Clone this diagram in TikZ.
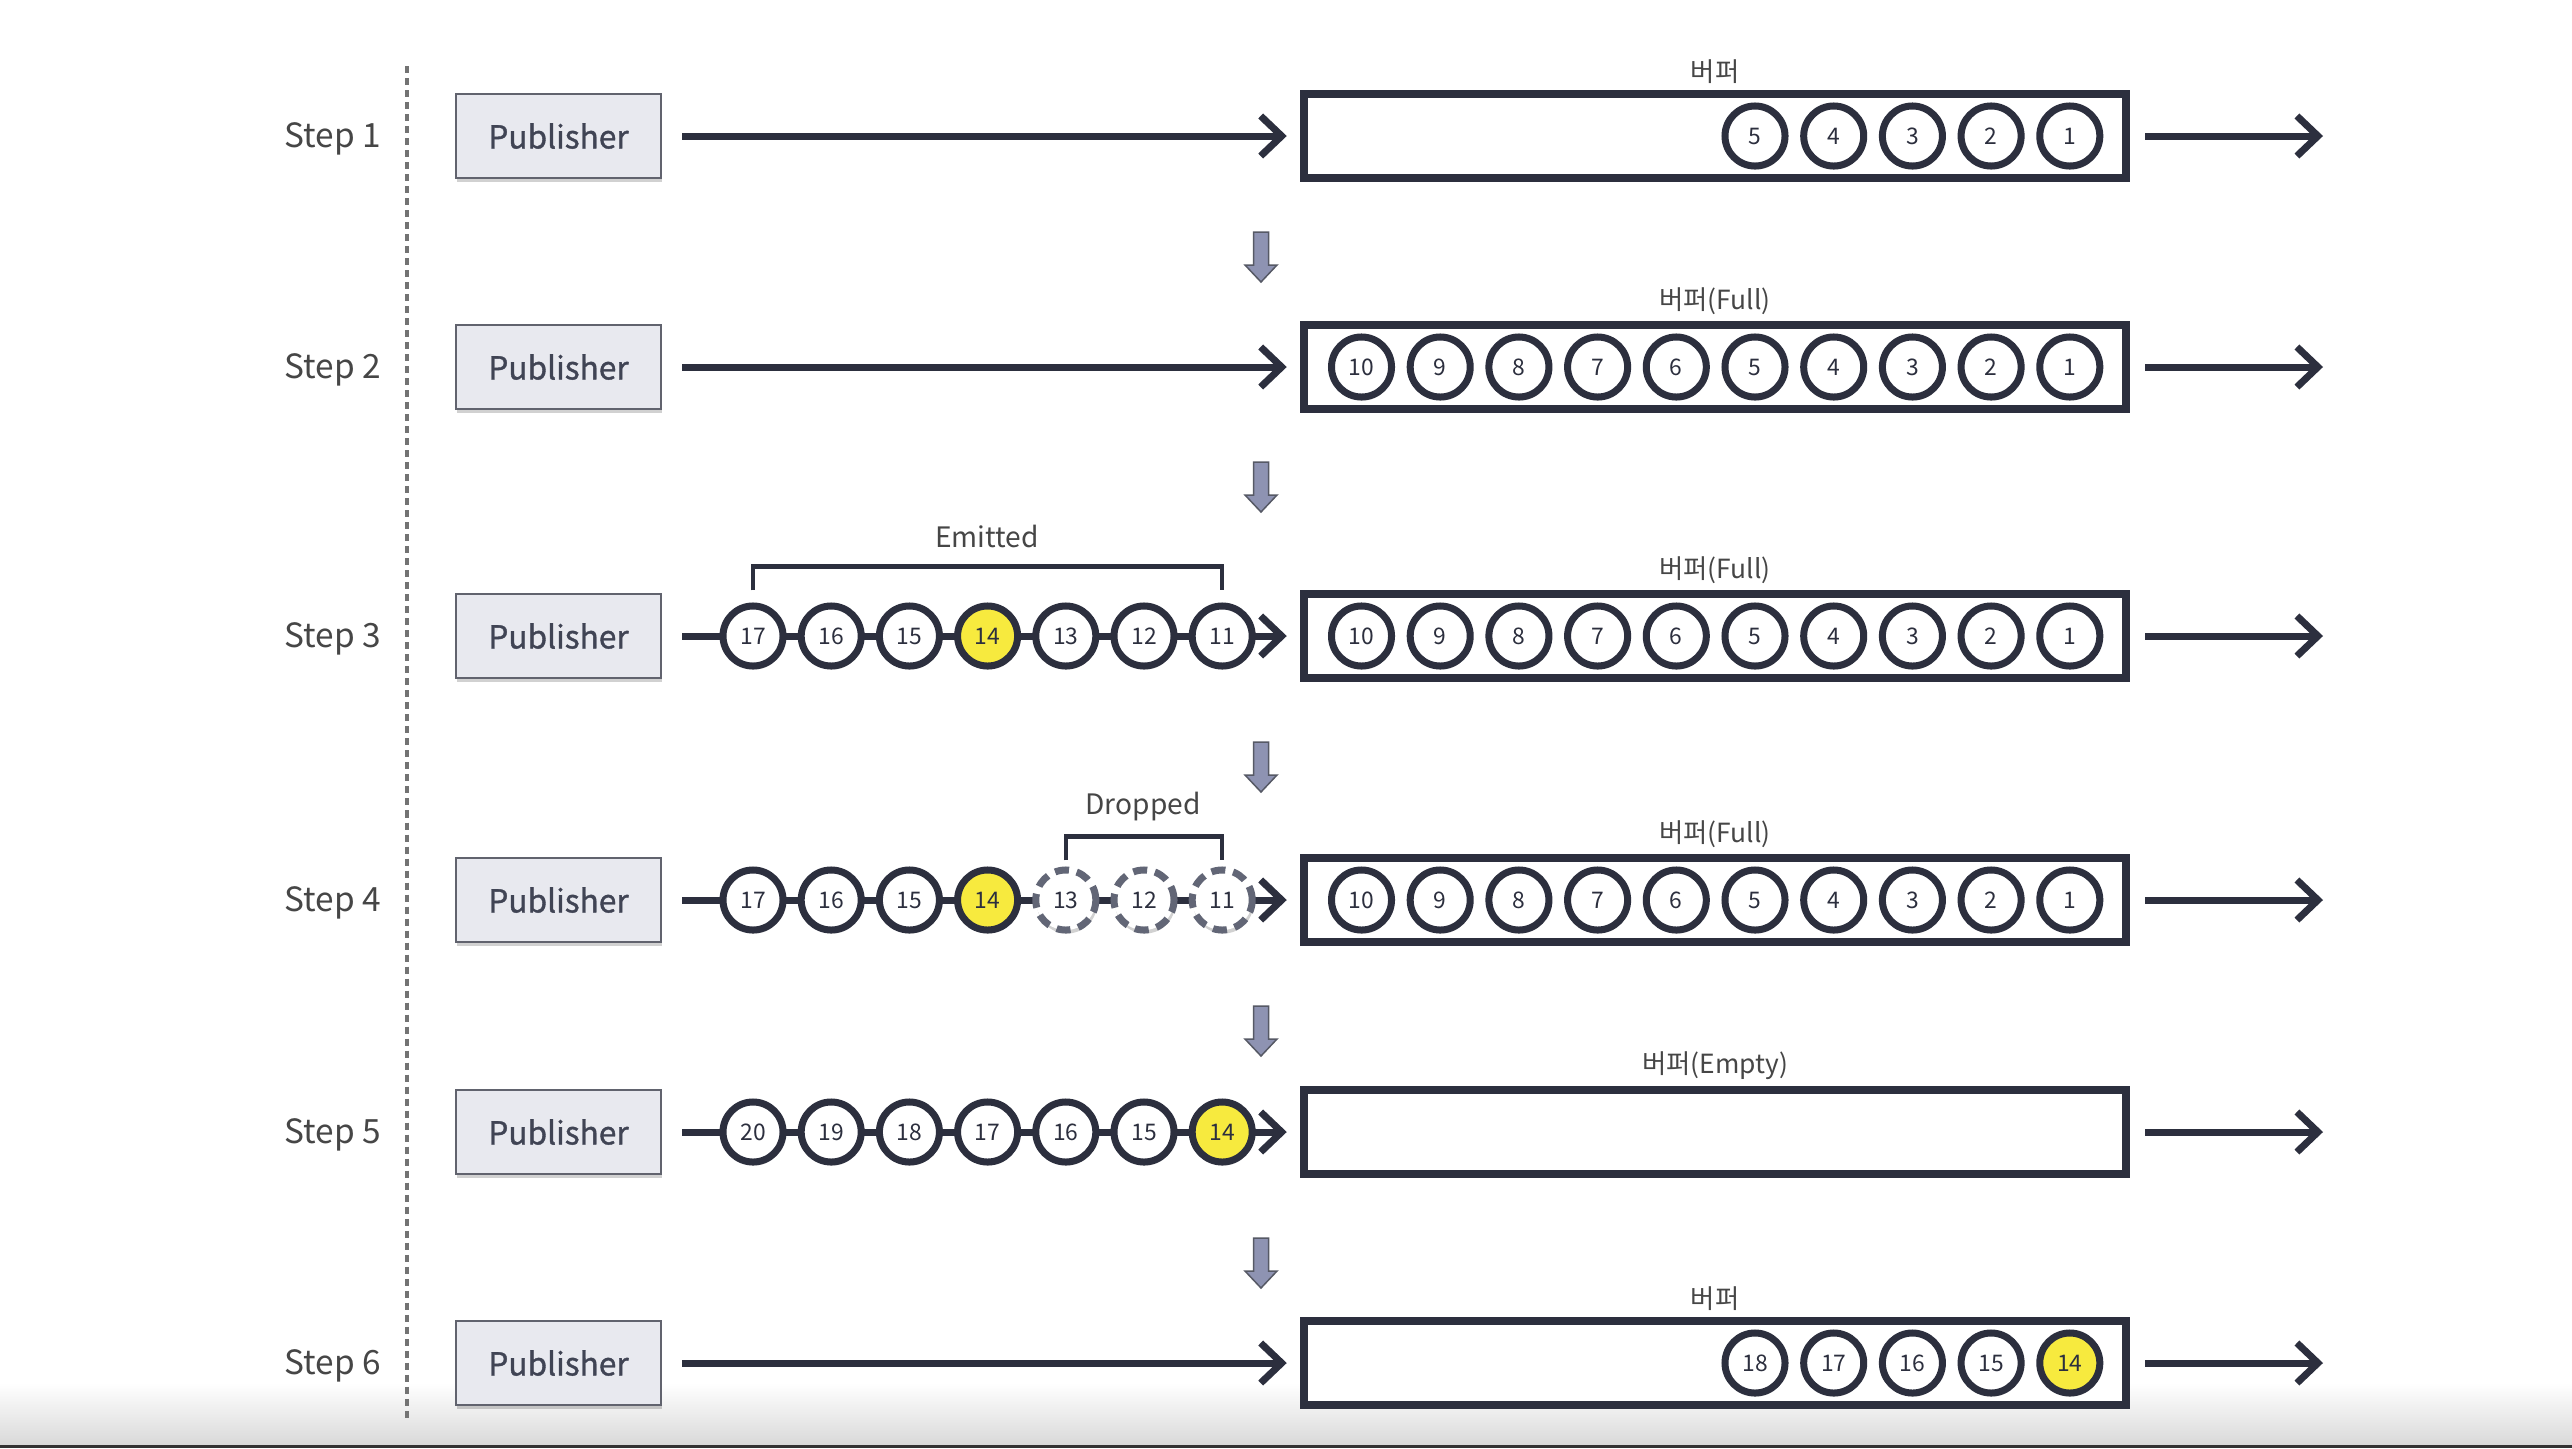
\documentclass[tikz,border=0pt]{standalone}
\usepackage{fontspec}
\setmainfont{Noto Sans CJK KR}
\newfontfamily\pubfont[AutoFakeBold=1.2]{Noto Sans CJK KR}
\usetikzlibrary{arrows.meta,shadows}
\definecolor{ink}{RGB}{44,47,62}
\definecolor{pubfill}{RGB}{232,233,239}
\definecolor{pubtext}{RGB}{64,68,84}
\definecolor{dnfill}{RGB}{142,147,178}
\definecolor{yel}{RGB}{247,234,62}
\definecolor{dropc}{RGB}{98,102,118}
\definecolor{lbl}{RGB}{70,70,70}
\begin{document}
\begin{tikzpicture}[x=0.01cm, y=-0.01cm,
  softshadow/.style={drop shadow={shadow xshift=0.012cm, shadow yshift=-0.035cm, opacity=0.18, fill=black}},
  steplbl/.style={font=\fontsize{9.5}{12}\selectfont, text=lbl},
  pubbox/.style={draw=ink!75, line width=0.02cm, fill=pubfill, minimum width=2.05cm, minimum height=0.84cm, inner sep=0pt, font=\fontsize{9}{11}\selectfont\pubfont\bfseries, text=pubtext, softshadow},
  buf/.style={draw=ink, line width=0.08cm, fill=white, minimum width=8.22cm, minimum height=0.84cm, inner sep=0pt, softshadow},
  buflbl/.style={font=\fontsize{7.5}{9}\selectfont, text=lbl, inner sep=1pt},
  ball/.style={circle, draw=ink, line width=0.07cm, fill=white, minimum size=0.6cm, inner sep=0pt, font=\fontsize{6.5}{8}\selectfont, text=ink, softshadow},
  hot/.style={ball, fill=yel},
  gone/.style={ball, draw=dropc, dash pattern=on 0.14cm off 0.08cm},
  flow/.style={draw=ink, line width=0.07cm, -{Straight Barb[length=0.21cm, width=0.4cm]}},
  bracketline/.style={draw=ink, line width=0.045cm},
  brlbl/.style={font=\fontsize{8}{10}\selectfont, text=lbl},
  dnarrow/.style={draw=ink!80, line width=0.015cm, fill=dnfill},
  divider/.style={draw=black!55, line width=0.035cm, dash pattern=on 0.07cm off 0.05cm}
]
\useasboundingbox (0,0) rectangle (2572,1448);
\fill[white] (0,0) rectangle (2572,1448);
\shade[top color=white, bottom color=black!15] (0,1383) rectangle (2572,1445);
\fill[black!80] (0,1445) rectangle (2572,1448);

% divider
\draw[divider] (407,66) -- (407,1419);

% ---------- Step 1
\node[steplbl] (st1) at (333,139) {Step 1};
\node[pubbox] (pub1) at (558.5,136) {Publisher};
\node[buf] (buf1) at (1715,136) {};
\node[buflbl, above=0.02cm] (bl1) at (buf1.north) {버퍼};
\coordinate (out1) at (2323,136);
\draw[flow] ([xshift=0.2cm]pub1.east) -- ([xshift=-0.13cm]buf1.west);
\draw[flow] ([xshift=0.15cm]buf1.east) -- (out1);
\foreach \n [count=\i from 5] in {5,4,3,2,1}
  \node[ball] (b1-\n) at (1361.5+78.7*\i,136) {\n};

% ---------- Step 2
\node[steplbl] (st2) at (333,370) {Step 2};
\node[pubbox] (pub2) at (558.5,367) {Publisher};
\node[buf] (buf2) at (1715,367) {};
\node[buflbl, above=0.02cm] (bl2) at (buf2.north) {버퍼(Full)};
\coordinate (out2) at (2323,367);
\draw[flow] ([xshift=0.2cm]pub2.east) -- ([xshift=-0.13cm]buf2.west);
\draw[flow] ([xshift=0.15cm]buf2.east) -- (out2);
\foreach \n [count=\i from 0] in {10,9,8,7,6,5,4,3,2,1}
  \node[ball] (b2-\n) at (1361.5+78.7*\i,367) {\n};

% ---------- Step 3
\node[steplbl] (st3) at (333,639) {Step 3};
\node[pubbox] (pub3) at (558.5,636) {Publisher};
\node[buf] (buf3) at (1715,636) {};
\node[buflbl, above=0.02cm] (bl3) at (buf3.north) {버퍼(Full)};
\coordinate (out3) at (2323,636);
\draw[flow] ([xshift=0.2cm]pub3.east) -- ([xshift=-0.13cm]buf3.west);
\draw[flow] ([xshift=0.15cm]buf3.east) -- (out3);
\foreach \n [count=\i from 0] in {10,9,8,7,6,5,4,3,2,1}
  \node[ball] (b3-\n) at (1361.5+78.7*\i,636) {\n};
\foreach \n [count=\j from 0] in {17,16,15}
  \node[ball] (q3-\n) at (753+78.2*\j,636) {\n};
\node[hot] (q3-14) at (753+78.2*3,636) {14};
\foreach \n [count=\j from 4] in {13,12,11}
  \node[ball] (q3-\n) at (753+78.2*\j,636) {\n};
\draw[bracketline] ([yshift=0.12cm]q3-17.north) -- ++(0,-24) -| ([yshift=0.12cm]q3-11.north);
\node[brlbl] (emit) at (987,536) {Emitted};

% ---------- Step 4
\node[steplbl] (st4) at (333,903) {Step 4};
\node[pubbox] (pub4) at (558.5,900) {Publisher};
\node[buf] (buf4) at (1715,900) {};
\node[buflbl, above=0.02cm] (bl4) at (buf4.north) {버퍼(Full)};
\coordinate (out4) at (2323,900);
\draw[flow] ([xshift=0.2cm]pub4.east) -- ([xshift=-0.13cm]buf4.west);
\draw[flow] ([xshift=0.15cm]buf4.east) -- (out4);
\foreach \n [count=\i from 0] in {10,9,8,7,6,5,4,3,2,1}
  \node[ball] (b4-\n) at (1361.5+78.7*\i,900) {\n};
\foreach \n [count=\j from 0] in {17,16,15}
  \node[ball] (q4-\n) at (753+78.2*\j,900) {\n};
\node[hot] (q4-14) at (753+78.2*3,900) {14};
\foreach \n [count=\j from 4] in {13,12,11}
  \node[gone] (q4-\n) at (753+78.2*\j,900) {\n};
\draw[bracketline] ([yshift=0.06cm]q4-13.north) -- ++(0,-24) -| ([yshift=0.06cm]q4-11.north);
\node[brlbl] (drop) at (1143,807) {Dropped};

% ---------- Step 5
\node[steplbl] (st5) at (333,1135) {Step 5};
\node[pubbox] (pub5) at (558.5,1132) {Publisher};
\node[buf] (buf5) at (1715,1132) {};
\node[buflbl, above=0.02cm] (bl5) at (buf5.north) {버퍼(Empty)};
\coordinate (out5) at (2323,1132);
\draw[flow] ([xshift=0.2cm]pub5.east) -- ([xshift=-0.13cm]buf5.west);
\draw[flow] ([xshift=0.15cm]buf5.east) -- (out5);
\foreach \n [count=\j from 0] in {20,19,18,17,16,15}
  \node[ball] (q5-\n) at (753+78.2*\j,1132) {\n};
\node[hot] (q5-14) at (753+78.2*6,1132) {14};

% ---------- Step 6
\node[steplbl] (st6) at (333,1366) {Step 6};
\node[pubbox] (pub6) at (558.5,1363) {Publisher};
\node[buf] (buf6) at (1715,1363) {};
\node[buflbl, above=0.02cm] (bl6) at (buf6.north) {버퍼};
\coordinate (out6) at (2323,1363);
\draw[flow] ([xshift=0.2cm]pub6.east) -- ([xshift=-0.13cm]buf6.west);
\draw[flow] ([xshift=0.15cm]buf6.east) -- (out6);
\foreach \n [count=\i from 5] in {18,17,16,15}
  \node[ball] (b6-\n) at (1361.5+78.7*\i,1363) {\n};
\node[hot] (b6-14) at (1361.5+78.7*9,1363) {14};

% ---------- down arrows between steps
\foreach \cy in {257,487,767,1031,1263}
  \draw[dnarrow, shift={(1261,\cy)}] (-7.5,-25) -- (7.5,-25) -- (7.5,8) -- (16,8) -- (0,25) -- (-16,8) -- (-7.5,8) -- cycle;
\end{tikzpicture}
\end{document}
